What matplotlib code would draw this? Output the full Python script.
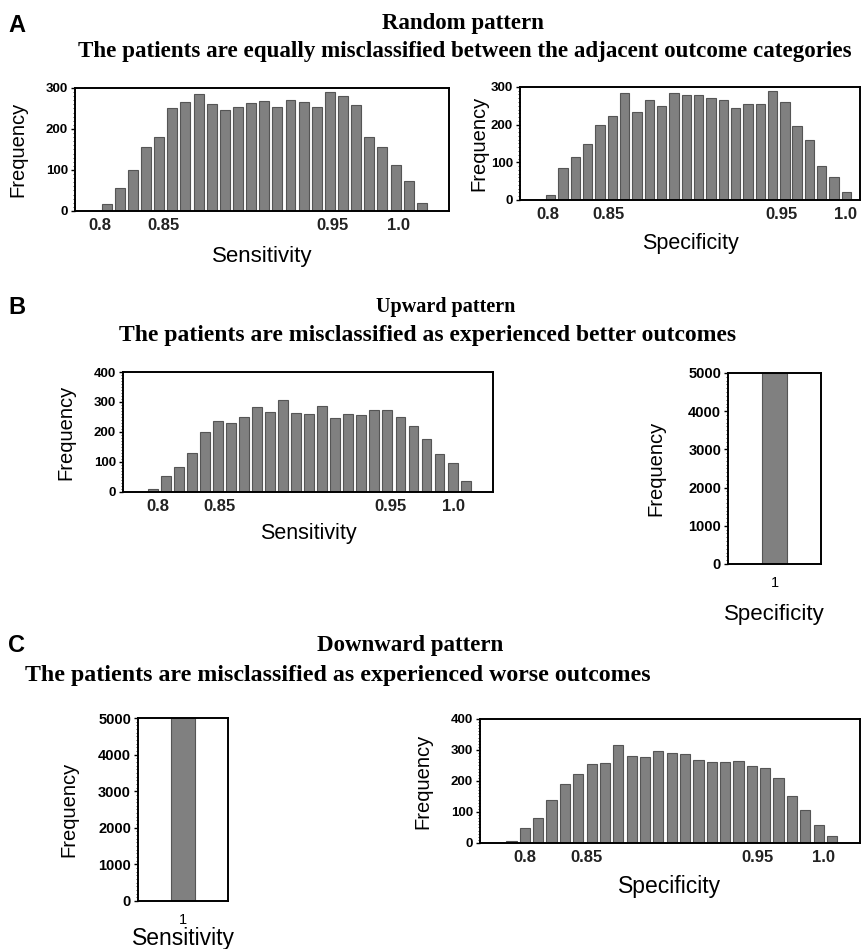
import numpy as np
import matplotlib
matplotlib.use('Agg')
import matplotlib.pyplot as plt
from matplotlib.ticker import MultipleLocator

# histogram counts (25 bins each)
a_sens = [18, 55, 99, 156, 181, 250, 265, 285, 260, 246, 254, 263, 269,
          254, 270, 265, 253, 289, 280, 258, 181, 157, 112, 73, 19]
a_spec = [13, 86, 114, 148, 199, 224, 285, 234, 265, 250, 285, 278, 278,
          271, 265, 244, 256, 254, 289, 260, 195, 159, 91, 61, 20]
b_sens = [10, 52, 84, 131, 201, 238, 229, 249, 282, 267, 307, 264, 260,
          285, 247, 259, 256, 274, 272, 249, 221, 177, 127, 97, 35]
c_spec = [5, 49, 80, 139, 189, 223, 254, 259, 317, 282, 277, 297, 291,
          287, 267, 260, 260, 266, 248, 243, 208, 150, 107, 58, 22]
single_cat = ['1']
single_val = [5000]
tick_labels = ['0.8', '0.85', '0.95', '1.0']

plt.rcParams['font.family'] = ['Liberation Sans', 'DejaVu Sans']

bar_col = '#808080'
edge_col = '#555555'

fig = plt.figure(figsize=(8.63, 9.49), dpi=100)


def style_axes(ax, ylab_x, xlab_y, xlabel, xl_size, yt_size):
    ax.tick_params(axis='y', which='major', length=3, width=1, labelsize=yt_size, pad=2)
    ax.tick_params(axis='y', which='minor', length=1.5, width=0.5)
    for lab in ax.get_yticklabels():
        lab.set_fontweight('bold')
    for s in ax.spines.values():
        s.set_linewidth(1.4)
    ax.set_ylabel('Frequency', fontsize=14.5)
    ax.yaxis.set_label_coords(ylab_x, 0.5)
    ax.set_xlabel(xlabel, fontsize=xl_size)
    ax.xaxis.set_label_coords(0.5, xlab_y)


def hist_panel(rect, counts, ymax, xlim, tickpos, xlabel, ylab_x, xlab_y, xl_size):
    ax = fig.add_axes(rect)
    x = np.arange(len(counts))
    ax.bar(x, counts, width=0.76, color=bar_col, edgecolor=edge_col, linewidth=0.8)
    ax.set_xlim(*xlim)
    ax.set_ylim(0, ymax)
    ax.set_yticks(np.arange(0, ymax + 1, 100))
    ax.yaxis.set_minor_locator(MultipleLocator(10))
    ax.set_xticks(tickpos)
    ax.set_xticklabels(tick_labels, fontsize=12, fontweight='bold', color='#222222')
    ax.tick_params(axis='x', length=0, pad=5)
    style_axes(ax, ylab_x, xlab_y, xlabel, xl_size, 9.5)
    return ax


def single_panel(rect, width, xlabel, ylab_x, xlab_y, xl_size):
    ax = fig.add_axes(rect)
    ax.bar(single_cat, single_val, width=width, color=bar_col, edgecolor=edge_col, linewidth=0.8)
    ax.set_xlim(-0.5, 0.5)
    ax.set_ylim(0, 5000)
    ax.set_yticks(np.arange(0, 5001, 1000))
    ax.yaxis.set_minor_locator(MultipleLocator(100))
    ax.tick_params(axis='x', length=0, pad=9, labelsize=10.5)
    style_axes(ax, ylab_x, xlab_y, xlabel, xl_size, 10.5)
    return ax


# panel A
hist_panel([0.0869, 0.7777, 0.4334, 0.1296], a_sens, 300, (-2.41, 26.07),
           [-0.5, 4.3, 17.2, 22.2], 'Sensitivity', -0.128, -0.282, 16)
hist_panel([0.6025, 0.7893, 0.3940, 0.1191], a_spec, 300, (-2.5, 25.1),
           [-0.2, 4.7, 18.7, 23.9], 'Specificity', -0.094, -0.288, 15.5)

# panel B
hist_panel([0.1425, 0.4816, 0.4287, 0.1264], b_sens, 400, (-2.3, 26.1),
           [0.4, 5.1, 18.2, 23.1], 'Sensitivity', -0.130, -0.258, 15.5)
single_panel([0.8436, 0.4057, 0.1078, 0.2013], 0.27, 'Specificity', -0.677, -0.209, 16)

# panel C
single_panel([0.1599, 0.0506, 0.1043, 0.1928], 0.256, 'Sensitivity', -0.667, -0.14, 16.5)
hist_panel([0.5562, 0.1117, 0.4403, 0.1307], c_spec, 400, (-2.36, 26.1),
           [1.0, 5.65, 18.45, 23.4], 'Specificity', -0.126, -0.254, 16.5)

# headings
serif = dict(family=['Liberation Serif', 'DejaVu Serif'], fontweight='bold',
             ha='center', va='center')


def fy(py):
    return 1 - py / 949


def fx(px):
    return px / 863


for letter, py in [('A', 25), ('B', 308), ('C', 645)]:
    fig.text(fx(8), fy(py), letter, fontsize=17, fontweight='bold', ha='left', va='center')

fig.text(fx(463), fy(24), 'Random pattern', fontsize=16.5, **serif)
fig.text(fx(465), fy(52),
         'The patients are equally misclassified between the adjacent outcome categories',
         fontsize=16.6, **serif)
fig.text(fx(446), fy(307), 'Upward pattern', fontsize=14.5, **serif)
fig.text(fx(428), fy(335), 'The patients are misclassified as experienced better outcomes',
         fontsize=17, **serif)
fig.text(fx(410), fy(646), 'Downward pattern', fontsize=16.5, **serif)
fig.text(fx(338), fy(675), 'The patients are misclassified as experienced worse outcomes',
         fontsize=17.2, **serif)

fig.savefig('out.png', dpi=100, facecolor='white')
